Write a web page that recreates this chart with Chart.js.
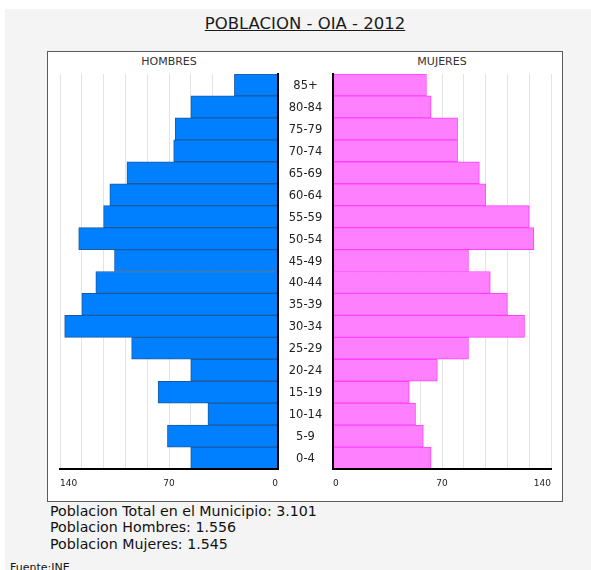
<!DOCTYPE html>
<html>
<head>
<meta charset="utf-8">
<script src="https://cdn.jsdelivr.net/npm/chart.js@4.4.1/dist/chart.umd.min.js"></script>
<style>
  body { margin: 0; background: #fff; font-family: "DejaVu Sans", Verdana, sans-serif; }
  #page { position: absolute; left: 5px; top: 9px; width: 586px; height: 561px; background: #f4f4f4; }
  .abs { position: absolute; white-space: nowrap; }
  #title { left: 0; width: 610px; top: 14px; text-align: center; font-size: 16.5px; color: #1a1a1a; text-decoration: underline; }
  #box { left: 47px; top: 51px; width: 514px; height: 449px; background: #fff; border: 1px solid #5a5a5a; }
  .side { font-size: 11px; color: #333; top: 55px; width: 120px; text-align: center; }
  .info { left: 50px; font-size: 14.2px; color: #111; }
  canvas { position: absolute; }
</style>
</head>
<body>
<div id="page"></div>
<div id="title" class="abs">POBLACION - OIA - 2012</div>
<div id="box" class="abs"></div>
<div class="abs side" style="left:109px">HOMBRES</div>
<div class="abs side" style="left:382px">MUJERES</div>
<canvas id="leftChart" width="236" height="431" style="left:51px;top:70px"></canvas>
<canvas id="rightChart" width="282" height="431" style="left:278px;top:70px"></canvas>
<div class="abs info" style="top:503px">Poblacion Total en el Municipio: 3.101</div>
<div class="abs info" style="top:519px">Poblacion Hombres: 1.556</div>
<div class="abs info" style="top:536px">Poblacion Mujeres: 1.545</div>
<div class="abs" style="left:10px;top:561px;font-size:11px;color:#111">Fuente:INE</div>
<script>
// grupos de edad, de arriba abajo
const ageGroups = ['85+', '80-84', '75-79', '70-74', '65-69', '60-64', '55-59', '50-54', '45-49',
    '40-44', '35-39', '30-34', '25-29', '20-24', '15-19', '10-14', '5-9', '0-4'];
const hombres = [28, 56, 66, 67, 97, 108, 112, 128, 105, 117, 126, 137, 94, 56, 77, 45, 71, 56];
const mujeres = [60, 63, 80, 80, 94, 98, 126, 129, 87, 101, 112, 123, 87, 67, 49, 53, 58, 63];
const axisMax = 140;
const gridStep = 14;
const labelledTicks = [0, 70, 140];

function xScale(min, max) {
    return {
        min: min,
        max: max,
        grid: { color: '#e3e3e3', drawTicks: false },
        border: { color: '#000', width: 2, z: 1 },
        ticks: {
            stepSize: gridStep,
            autoSkip: false,
            maxRotation: 0,
            align: 'inner',
            padding: 9,
            color: '#222',
            font: { family: 'DejaVu Sans', size: 9 },
            callback: (v) => labelledTicks.includes(Math.abs(v)) ? String(Math.abs(v)) : ''
        },
        afterFit: (scale) => { scale.height = 32; }
    };
}

function dataset(values, fill, line) {
    return {
        data: values,
        backgroundColor: fill,
        borderColor: line,
        borderWidth: 1,
        borderSkipped: false,
        barPercentage: 1,
        categoryPercentage: 1
    };
}

// etiquetas de edad en el hueco central, centradas
const centerLabels = {
    id: 'centerLabels',
    afterDraw(chart) {
        const y = chart.scales.y;
        const ctx = chart.ctx;
        const cx = (y.left + y.right) / 2;
        ctx.save();
        ctx.fillStyle = '#222';
        ctx.font = '11.5px "DejaVu Sans"';
        ctx.textAlign = 'center';
        ctx.textBaseline = 'middle';
        ageGroups.forEach((g, i) => ctx.fillText(g, cx, y.getPixelForValue(i) + 1));
        ctx.restore();
    }
};

const common = {
    indexAxis: 'y',
    responsive: false,
    animation: false,
    plugins: { legend: { display: false }, tooltip: { enabled: false } }
};

new Chart(document.getElementById('leftChart'), {
    type: 'bar',
    data: { labels: ageGroups, datasets: [dataset(hombres.map(v => -v), '#0080ff', '#1b5a9e')] },
    options: {
        ...common,
        layout: { padding: { left: 0, right: 0, top: 4, bottom: 0 } },
        scales: {
            x: xScale(-axisMax, 0),
            y: {
                position: 'right',
                grid: { display: false },
                ticks: { display: false },
                border: { color: '#000', width: 2, z: 1 },
                afterFit: (scale) => { scale.width = 0; }
            }
        }
    }
});

new Chart(document.getElementById('rightChart'), {
    type: 'bar',
    data: { labels: ageGroups, datasets: [dataset(mujeres, '#ff80ff', '#ff40ff')] },
    options: {
        ...common,
        layout: { padding: { left: 0, right: 0, top: 4, bottom: 0 } },
        scales: {
            x: xScale(0, axisMax),
            y: {
                position: 'left',
                grid: { display: false },
                ticks: { display: false },
                border: { color: '#000', width: 2, z: 1 },
                afterFit: (scale) => { scale.width = 55; }
            }
        }
    },
    plugins: [centerLabels]
});
</script>
</body>
</html>
